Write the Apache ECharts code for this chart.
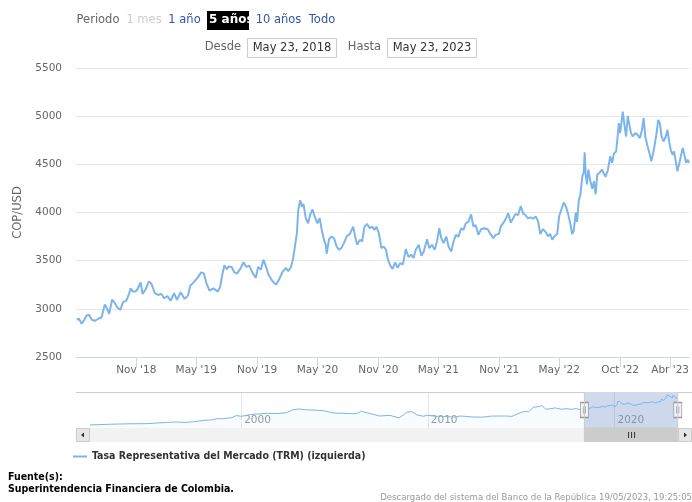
<!DOCTYPE html>
<html>
<head>
<meta charset="utf-8">
<script src="https://cdn.jsdelivr.net/npm/echarts@6/dist/echarts.min.js"></script>
<style>
html, body { margin: 0; padding: 0; background: #fff; }
#chart { width: 692px; height: 502px; }
</style>
</head>
<body>
<div id="chart"></div>
<script>
// TRM detallada (ventana de 5 años)
const dates = [
  '2018-05-05','2018-05-12','2018-05-20','2018-05-27','2018-06-04','2018-06-11','2018-06-20','2018-06-29',
  '2018-07-09','2018-07-19','2018-07-29','2018-08-05','2018-08-11','2018-08-20','2018-08-28','2018-09-04',
  '2018-09-14','2018-09-22','2018-10-02','2018-10-10','2018-10-15','2018-10-22','2018-10-30','2018-11-06',
  '2018-11-14','2018-11-20','2018-11-30','2018-12-09','2018-12-17','2018-12-27','2019-01-06','2019-01-16',
  '2019-01-24','2019-02-03','2019-02-13','2019-02-23','2019-03-04','2019-03-15','2019-03-27','2019-04-06',
  '2019-04-13','2019-04-23','2019-05-06','2019-05-16','2019-05-24','2019-05-31','2019-06-10','2019-06-22',
  '2019-07-05','2019-07-12','2019-07-18','2019-07-25','2019-08-01','2019-08-07','2019-08-16','2019-08-24',
  '2019-09-01','2019-09-11','2019-09-21','2019-09-29','2019-10-08','2019-10-18','2019-10-28','2019-11-04',
  '2019-11-12','2019-11-20','2019-11-28','2019-12-05','2019-12-14','2019-12-22','2019-12-29','2020-01-06',
  '2020-01-16','2020-01-27','2020-02-03','2020-02-11','2020-02-18','2020-02-23','2020-02-29','2020-03-04',
  '2020-03-10','2020-03-15','2020-03-20','2020-03-27','2020-04-03','2020-04-09','2020-04-16','2020-04-23',
  '2020-05-01','2020-05-08','2020-05-14','2020-05-21','2020-05-26','2020-05-29','2020-06-05','2020-06-12',
  '2020-06-20','2020-06-28','2020-07-05','2020-07-12','2020-07-20','2020-07-28','2020-08-07','2020-08-17',
  '2020-08-24','2020-08-29','2020-09-06','2020-09-13','2020-09-20','2020-09-28','2020-10-06','2020-10-13',
  '2020-10-20','2020-10-26','2020-11-02','2020-11-07','2020-11-10','2020-11-17','2020-11-24','2020-11-30',
  '2020-12-07','2020-12-14','2020-12-22','2020-12-29','2021-01-06','2021-01-14','2021-01-23','2021-01-31',
  '2021-02-08','2021-02-15','2021-02-22','2021-03-03','2021-03-11','2021-03-18','2021-03-28','2021-04-04',
  '2021-04-12','2021-04-20','2021-04-27','2021-05-04','2021-05-10','2021-05-17','2021-05-25','2021-06-01',
  '2021-06-09','2021-06-16','2021-06-23','2021-07-01','2021-07-09','2021-07-16','2021-07-23','2021-07-31',
  '2021-08-08','2021-08-15','2021-08-22','2021-08-30','2021-09-07','2021-09-17','2021-09-27','2021-10-04',
  '2021-10-14','2021-10-21','2021-10-31','2021-11-06','2021-11-13','2021-11-20','2021-11-28','2021-12-06',
  '2021-12-13','2021-12-20','2021-12-28','2022-01-05','2022-01-12','2022-01-19','2022-01-27','2022-02-04',
  '2022-02-11','2022-02-19','2022-02-26','2022-03-05','2022-03-13','2022-03-22','2022-03-28','2022-04-04',
  '2022-04-10','2022-04-18','2022-04-25','2022-05-01','2022-05-08','2022-05-15','2022-05-21','2022-05-28',
  '2022-06-03','2022-06-09','2022-06-14','2022-06-20','2022-06-24','2022-06-29','2022-07-04','2022-07-10',
  '2022-07-14','2022-07-17','2022-07-20','2022-07-24','2022-07-28','2022-08-03','2022-08-09','2022-08-14',
  '2022-08-19','2022-08-24','2022-08-31','2022-09-07','2022-09-12','2022-09-18','2022-09-25','2022-10-02',
  '2022-10-08','2022-10-13','2022-10-20','2022-10-25','2022-10-28','2022-11-01','2022-11-06','2022-11-09',
  '2022-11-14','2022-11-19','2022-11-24','2022-11-29','2022-12-04','2022-12-09','2022-12-17','2022-12-24',
  '2022-12-31','2023-01-06','2023-01-11','2023-01-16','2023-01-23','2023-01-30','2023-02-03','2023-02-09',
  '2023-02-15','2023-02-19','2023-02-24','2023-03-01','2023-03-06','2023-03-12','2023-03-19','2023-03-24',
  '2023-03-29','2023-04-03','2023-04-08','2023-04-13','2023-04-18','2023-04-23','2023-04-29','2023-05-04',
  '2023-05-09','2023-05-14','2023-05-19','2023-05-24','2023-05-28'
];
const trm = [
  2887,2897,2845,2880,2931,2938,2887,2876,
  2897,2910,3044,3000,2948,3096,3062,3017,
  2990,3069,3086,3155,3213,3179,3179,3213,
  3275,3155,3206,3285,3258,3162,3144,3155,
  3110,3131,3086,3162,3093,3172,3103,3137,
  3240,3275,3327,3378,3368,3275,3189,3213,
  3179,3223,3343,3453,3412,3440,3435,3380,
  3366,3415,3483,3435,3449,3373,3322,3435,
  3407,3510,3435,3356,3304,3270,3253,3304,
  3380,3425,3390,3435,3528,3510,3785,4025,
  4128,4059,4087,3940,3888,3974,4032,3956,
  3888,3940,3819,3716,3665,3572,3723,3750,
  3734,3647,3613,3630,3682,3750,3778,3853,
  3734,3665,3716,3699,3853,3881,3837,3853,
  3819,3853,3790,3699,3630,3647,3613,3510,
  3449,3415,3483,3425,3476,3459,3621,3538,
  3562,3528,3613,3665,3552,3596,3723,3630,
  3665,3613,3699,3837,3734,3682,3750,3647,
  3596,3699,3768,3750,3837,3819,3888,3905,
  3981,3853,3871,3768,3826,3837,3826,3785,
  3734,3768,3778,3861,3888,3929,3991,3895,
  3940,3985,3974,4066,3991,3974,3940,3950,
  3935,3959,3914,3777,3828,3794,3753,3777,
  3718,3759,3777,3965,4034,4103,4068,3983,
  3897,3777,3811,4000,3903,4119,4188,4377,
  4412,4624,4394,4291,4446,4326,4247,4326,
  4188,4394,4412,4446,4463,4370,4439,4583,
  4515,4611,4634,4806,4927,4824,4961,5047,
  4910,4789,5002,4910,4824,4789,4824,4806,
  4772,4858,4979,4789,4686,4600,4531,4618,
  4737,4824,4961,4927,4789,4737,4789,4858,
  4737,4652,4600,4634,4531,4428,4515,4531,
  4669,4600,4515,4549,4515
];

const histDates = [
  '1991-11-27','1992-01-01','1992-07-01','1993-01-01','1993-07-01','1994-01-01','1994-07-01','1995-01-01',
  '1995-07-01','1996-01-01','1996-07-01','1997-01-01','1997-07-01','1998-01-01','1998-07-01','1998-09-01',
  '1999-01-01','1999-07-01','1999-10-01','2000-01-01','2000-07-01','2000-12-01','2001-06-01','2001-12-01',
  '2002-06-01','2002-10-01','2003-02-01','2003-06-01','2003-12-01','2004-06-01','2004-12-01','2005-06-01',
  '2005-12-01','2006-03-01','2006-06-15','2006-10-01','2007-01-01','2007-06-01','2007-10-01','2008-01-01',
  '2008-06-15','2008-10-01','2008-11-15','2009-03-01','2009-06-01','2009-10-01','2010-01-01','2010-06-01',
  '2010-12-01','2011-06-01','2011-10-01','2012-01-01','2012-06-01','2012-12-01','2013-06-01','2013-12-01',
  '2014-04-01','2014-07-01','2014-12-15','2015-03-15','2015-06-01','2015-08-25','2015-12-15','2016-02-10',
  '2016-05-01','2016-08-01','2016-11-01','2017-03-01','2017-06-01','2017-09-01','2017-12-15','2018-03-01',
  '2018-04-15'
];
const histTrm = [
  640,680,700,740,780,810,820,830,
  930,990,1070,1000,1120,1300,1380,1550,
  1540,1700,2000,1890,2140,2230,2320,2290,
  2400,2800,2960,2830,2780,2700,2380,2330,
  2280,2260,2630,2380,2240,1930,2000,2010,
  1650,2200,2500,2550,2100,1900,2040,1900,
  1870,1780,1930,1880,1790,1770,1920,1930,
  1930,1870,2400,2600,2550,3200,3300,3430,
  2900,3000,3100,2900,3000,2900,3000,2860,
  2720
];

const xTicks = ['2018-11-01','2019-05-01','2019-11-01','2020-05-01','2020-11-01','2021-05-01','2021-11-01','2022-05-01','2022-11-01','2023-04-01'];
const xTickLabels = ["Nov '18","May '19","Nov '19","May '20","Nov '20","May '21","Nov '21","May '22","Oct '22","Abr '23"];
const navTicks = ['2000-01-01','2010-01-01','2020-01-01'];
const navTickLabels = ['2000','2010','2020'];
const periodButtons = ['1 mes','1 año','5 años','10 años','Todo'];
const selectedButton = 2;
const rangeFrom = '2018-05-23';
const rangeTo = '2023-05-23';
const seriesName = 'Tasa Representativa del Mercado (TRM) (izquierda)';

const FONT = 'DejaVu Sans';
const COND = 'DejaVu Sans Condensed, DejaVu Sans';

function ts(s) {
  const p = s.split('-').map(Number);
  return Date.UTC(p[0], p[1] - 1, p[2]);
}

const mainData = dates.map((d, i) => [ts(d), trm[i]]);
const navData = histDates.map((d, i) => [ts(d), histTrm[i]]).concat(mainData);
const xTickTs = xTicks.map(ts);
const navTickTs = navTicks.map(ts);
const labelFor = {};
xTicks.forEach((d, i) => { labelFor[ts(d)] = xTickLabels[i]; });
const navLabelFor = {};
navTicks.forEach((d, i) => { navLabelFor[ts(d)] = navTickLabels[i]; });

const chart = echarts.init(document.getElementById('chart'));

const option = {
  animation: false,
  backgroundColor: '#fff',
  textStyle: { fontFamily: FONT },
  legend: {
    data: [seriesName],
    left: 68, top: 446,
    icon: 'rect', itemWidth: 14, itemHeight: 2,
    selectedMode: false,
    textStyle: { fontFamily: COND, fontWeight: 'bold', fontSize: 10.5, color: '#333' }
  },
  grid: [
    { left: 76, right: 0, top: 68, height: 289 },
    { left: 90, right: 14, top: 392, height: 36 }
  ],
  xAxis: [
    {
      type: 'value', gridIndex: 0,
      min: ts('2018-05-03'), max: ts('2023-05-29'),
      axisLine: { lineStyle: { color: '#ccd6eb' } },
      axisTick: { show: true, customValues: xTickTs, length: 10, lineStyle: { color: '#ccd6eb' } },
      axisLabel: {
        customValues: xTickTs, color: '#666', fontSize: 10.5, margin: 8, hideOverlap: false,
        showMinLabel: true, showMaxLabel: true,
        formatter: v => labelFor[v] || ''
      },
      splitLine: { show: false }
    },
    {
      type: 'value', gridIndex: 1,
      min: ts(histDates[0]), max: ts(dates[dates.length - 1]),
      axisLine: { show: false },
      axisTick: { show: false, customValues: navTickTs },
      axisLabel: {
        customValues: navTickTs, inside: true, align: 'left', padding: [0, 0, 0, 3],
        color: '#999', fontSize: 10.5, margin: 2,
        showMinLabel: true, showMaxLabel: true,
        formatter: v => navLabelFor[v] || ''
      },
      splitLine: { show: true, lineStyle: { color: '#e6e6e6' } }
    }
  ],
  yAxis: [
    {
      type: 'value', gridIndex: 0, min: 2500, max: 5500, interval: 500,
      name: 'COP/USD', nameLocation: 'middle', nameGap: 41,
      nameTextStyle: { color: '#666', fontSize: 11.5 },
      axisLine: { show: false }, axisTick: { show: false },
      axisLabel: { color: '#666', fontSize: 10.5, margin: 14, padding: [0, 0, 8, 0], formatter: v => String(v) },
      splitLine: { lineStyle: { color: '#e6e6e6' } }
    },
    {
      type: 'value', gridIndex: 1, min: 200, max: 5400,
      show: false, splitLine: { show: false }
    }
  ],
  series: [
    {
      name: seriesName, type: 'line', xAxisIndex: 0, yAxisIndex: 0,
      data: mainData, symbol: 'none', color: '#7cb5ec',
      lineStyle: { width: 2, color: '#7cb5ec' }
    },
    {
      name: 'navegador', type: 'line', xAxisIndex: 1, yAxisIndex: 1,
      data: navData, symbol: 'none', silent: true,
      lineStyle: { width: 1, color: '#7cb5ec' },
      areaStyle: { color: 'rgba(124,181,236,0.06)' },
      markArea: {
        silent: true,
        itemStyle: { color: 'rgba(102,133,194,0.3)' },
        data: [[{ xAxis: ts(rangeFrom) }, { xAxis: ts(rangeTo) }]]
      },
      markPoint: {
        silent: true,
        symbol: 'path://M0,0H7V15H0ZM2.5,4V11M4.5,4V11',
        symbolSize: [8, 15], symbolKeepAspect: false,
        itemStyle: { color: '#f2f2f2', borderColor: '#999', borderWidth: 1 },
        label: { show: false },
        data: [{ coord: [ts(rangeFrom), 2800] }, { coord: [ts(rangeTo), 2800] }]
      }
    }
  ]
};
chart.setOption(option);

// selector de periodo, fechas, barra de desplazamiento y pie
const x0 = chart.convertToPixel({ xAxisIndex: 1 }, ts(rangeFrom));
const x1 = chart.convertToPixel({ xAxisIndex: 1 }, ts(rangeTo));
const btnX = [144, 184.5, 228, 278.5, 322];
const g = [];
g.push({ type: 'text', x: 98, y: 20, style: { text: 'Periodo', fill: '#666', fontSize: 11.5, fontFamily: FONT, align: 'center', verticalAlign: 'middle' } });
periodButtons.forEach((b, i) => {
  if (i === selectedButton) {
    g.push({ type: 'rect', shape: { x: 207, y: 11, width: 42, height: 19 }, style: { fill: '#000' } });
    g.push({ type: 'text', x: 209, y: 20, style: { text: b, fill: '#fff', fontSize: 12, fontWeight: 'bold', fontFamily: FONT, align: 'left', verticalAlign: 'middle' } });
  } else {
    g.push({ type: 'text', x: btnX[i], y: 20, style: { text: b, fill: i === 0 ? '#cccccc' : '#3355aa', fontSize: 11.5, fontFamily: FONT, align: 'center', verticalAlign: 'middle' } });
  }
});
[['Desde', 241, 247, rangeFrom], ['Hasta', 381, 387, rangeTo]].forEach(([lab, lx, bx, d]) => {
  const p = d.split('-');
  const txt = 'May ' + Number(p[2]) + ', ' + p[0];
  g.push({ type: 'text', x: lx, y: 47.5, style: { text: lab, fill: '#666', fontSize: 11.5, fontFamily: FONT, align: 'right', verticalAlign: 'middle' } });
  g.push({ type: 'rect', shape: { x: bx + 0.5, y: 38.5, width: 89, height: 19 }, style: { fill: '#fff', stroke: '#cccccc', lineWidth: 1 } });
  g.push({ type: 'text', x: bx + 45, y: 48, style: { text: txt, fill: '#333', fontSize: 11.5, fontFamily: FONT, align: 'center', verticalAlign: 'middle' } });
});
// contorno del navegador
g.push({ type: 'polyline', z: 50, shape: { points: [[76, 392.5], [x0, 392.5], [x0, 428], [x1, 428], [x1, 392.5], [692, 392.5]] }, style: { stroke: '#cccccc', lineWidth: 1, fill: null } });
// barra de desplazamiento
const sbY = 428, sbH = 14;
g.push({ type: 'rect', z: 40, shape: { x: 76, y: sbY, width: 616, height: sbH }, style: { fill: '#f2f2f2' } });
g.push({ type: 'rect', z: 41, shape: { x: x0, y: sbY + 0.5, width: x1 - x0, height: sbH - 1 }, style: { fill: '#cccccc', stroke: '#cccccc' } });
const cx = (x0 + x1) / 2;
[-3, 0, 3].forEach(d => g.push({ type: 'line', z: 42, shape: { x1: cx + d + 0.5, y1: sbY + 4, x2: cx + d + 0.5, y2: sbY + 10 }, style: { stroke: '#333', lineWidth: 1 } }));
g.push({ type: 'rect', z: 41, shape: { x: 76.5, y: sbY + 0.5, width: 13, height: sbH - 1 }, style: { fill: '#e6e6e6', stroke: '#cccccc' } });
g.push({ type: 'rect', z: 41, shape: { x: 678.5, y: sbY + 0.5, width: 13, height: sbH - 1 }, style: { fill: '#e6e6e6', stroke: '#cccccc' } });
g.push({ type: 'polygon', z: 42, shape: { points: [[81, sbY + 7], [84, sbY + 4.5], [84, sbY + 9.5]] }, style: { fill: '#333' } });
g.push({ type: 'polygon', z: 42, shape: { points: [[687, sbY + 7], [684, sbY + 4.5], [684, sbY + 9.5]] }, style: { fill: '#333' } });
// pie
g.push({ type: 'text', x: 8, y: 477, style: { text: 'Fuente(s):', fill: '#000', fontSize: 10.5, fontWeight: 'bold', fontFamily: COND, align: 'left', verticalAlign: 'middle' } });
g.push({ type: 'text', x: 8, y: 489, style: { text: 'Superintendencia Financiera de Colombia.', fill: '#000', fontSize: 10.5, fontWeight: 'bold', fontFamily: COND, align: 'left', verticalAlign: 'middle' } });
g.push({ type: 'text', x: 692, y: 498, style: { text: 'Descargado del sistema del Banco de la República 19/05/2023, 19:25:05', fill: '#999', fontSize: 9.5, fontFamily: COND, align: 'right', verticalAlign: 'middle' } });

chart.setOption({ graphic: { elements: g } });
</script>
</body>
</html>
